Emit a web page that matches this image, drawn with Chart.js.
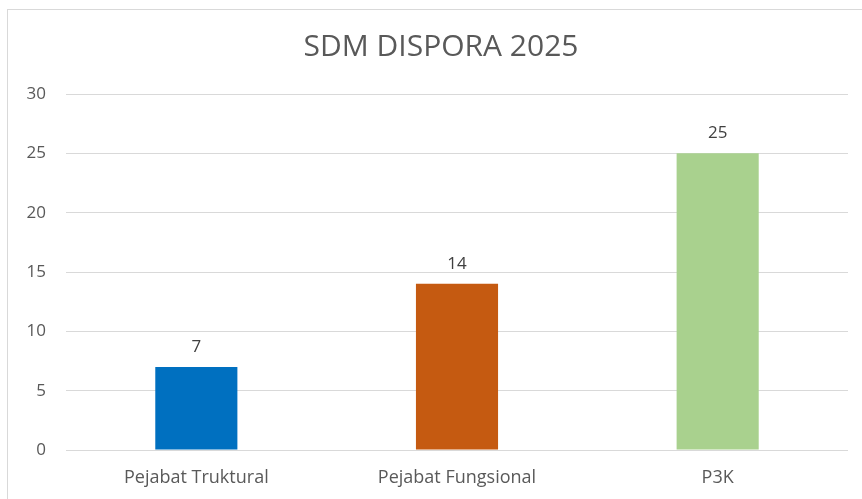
<!DOCTYPE html>
<html><head><meta charset="utf-8">
<script src="https://cdn.jsdelivr.net/npm/chart.js@4/dist/chart.umd.min.js"></script>
<style>
html,body{margin:0;padding:0;background:#fff;overflow:hidden}
#wrap{position:absolute;left:0;top:0;width:862px;height:499px}
#frame{position:absolute;left:7px;top:9px;width:900px;height:600px;border-left:1px solid #D9D9D9;border-top:1px solid #D9D9D9;box-sizing:border-box}
canvas{position:absolute;left:0;top:0}
</style></head><body>
<div id="wrap"><div id="frame"></div><canvas id="c" width="862" height="499"></canvas></div>
<script>
const categories = ["Pejabat Truktural", "Pejabat Fungsional", "P3K"];
const values = [7, 14, 25];
const barColors = ["#0070C0", "#C55A11", "#A9D18E"];
const yTicks = [0, 5, 10, 15, 20, 25, 30];
const titleText = "SDM DISPORA 2025";

const valueLabels = {
  id: 'valueLabels',
  afterDatasetsDraw(chart) {
    const ctx = chart.ctx;
    const meta = chart.getDatasetMeta(0);
    ctx.save();
    ctx.font = '17px "Open Sans", sans-serif';
    ctx.fillStyle = '#404040';
    ctx.textAlign = 'center';
    ctx.textBaseline = 'alphabetic';
    meta.data.forEach((bar, i) => {
      ctx.fillText(String(values[i]), bar.x, bar.y - 15);
    });
    ctx.restore();
  }
};

// Title centred on the outer chart frame (which extends past the right edge)
const frameTitle = {
  id: 'frameTitle',
  afterDraw(chart) {
    const ctx = chart.ctx;
    ctx.save();
    ctx.font = '30px "Open Sans", sans-serif';
    ctx.fillStyle = '#595959';
    ctx.textAlign = 'center';
    ctx.textBaseline = 'middle';
    ctx.fillText(titleText, 441, 47);
    ctx.restore();
  }
};

new Chart(document.getElementById('c'), {
  type: 'bar',
  data: {
    labels: categories,
    datasets: [{ data: values, backgroundColor: barColors, barPercentage: 0.315, categoryPercentage: 1 }]
  },
  options: {
    responsive: false,
    animation: false,
    layout: { padding: { left: 0, right: 14, top: 94, bottom: 0 } },
    plugins: {
      legend: { display: false },
      tooltip: { enabled: false },
      title: { display: false }
    },
    scales: {
      x: {
        grid: { display: false, drawTicks: false },
        border: { display: false },
        ticks: { color: '#595959', font: { family: '"Open Sans", sans-serif', size: 18 }, padding: 17 },
        afterFit(s) { s.height = 49; }
      },
      y: {
        min: 0, max: 30,
        afterBuildTicks(s) { s.ticks = yTicks.map(v => ({ value: v })); },
        grid: { color: '#D9D9D9', lineWidth: 1, drawTicks: false },
        border: { display: false },
        ticks: { color: '#595959', font: { family: '"Open Sans", sans-serif', size: 17 }, padding: 20 },
        afterFit(s) { s.width = 66; }
      }
    }
  },
  plugins: [valueLabels, frameTitle]
});
</script></body></html>
